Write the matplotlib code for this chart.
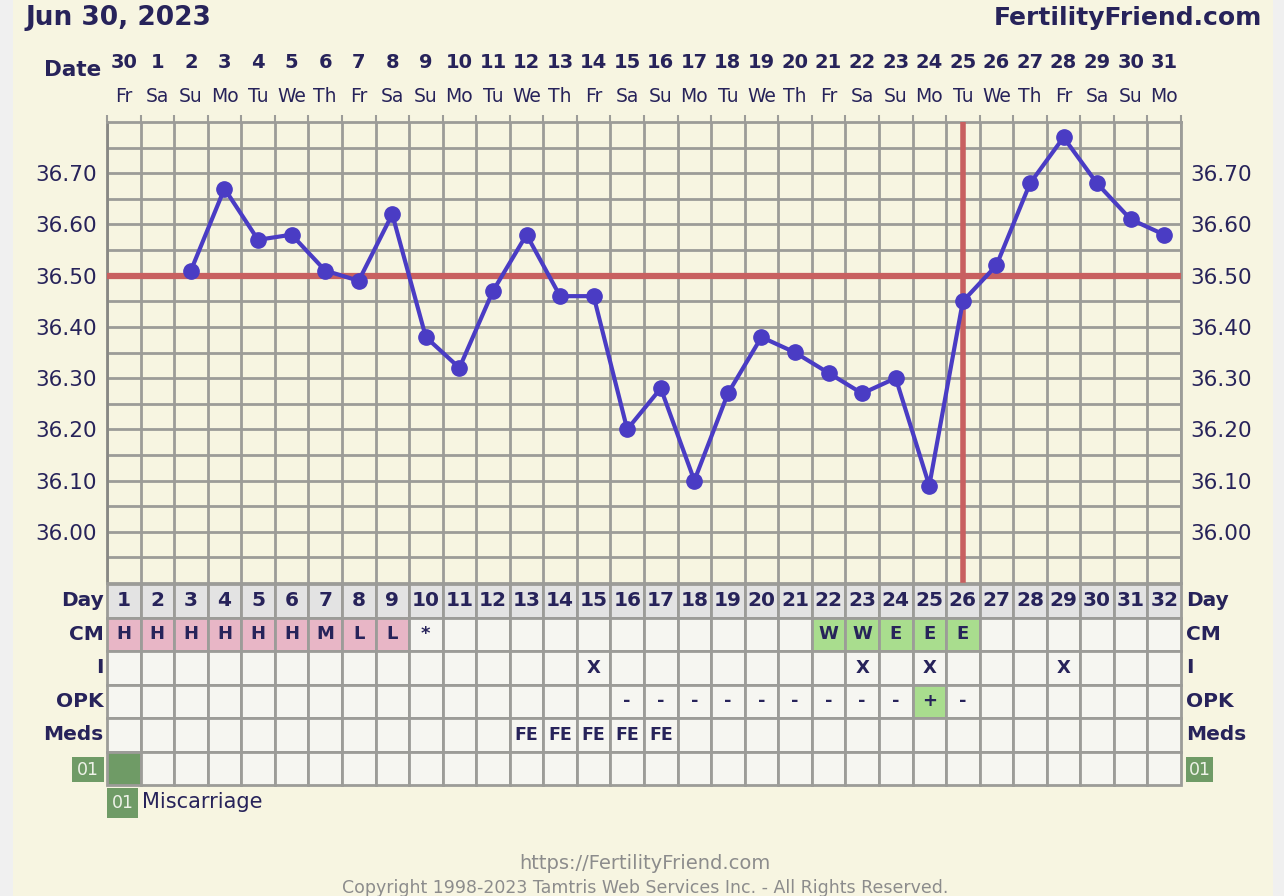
import numpy as np
import matplotlib
matplotlib.use("Agg")
import matplotlib.pyplot as plt
from matplotlib.patches import Rectangle
import matplotlib.transforms as mtransforms

# ---- data ----
days = list(range(1, 33))
dates = [30] + list(range(1, 32))
weekdays = ["Fr", "Sa", "Su", "Mo", "Tu", "We", "Th"] * 5
weekdays = weekdays[:32]
temps = [None, None, 36.51, 36.67, 36.57, 36.58, 36.51, 36.49, 36.62, 36.38,
         36.32, 36.47, 36.58, 36.46, 36.46, 36.20, 36.28, 36.10, 36.27, 36.38,
         36.35, 36.31, 36.27, 36.30, 36.09, 36.45, 36.52, 36.68, 36.77, 36.68,
         36.61, 36.58]
coverline = 36.50
ovulation_day = 26

cm = {1: "H", 2: "H", 3: "H", 4: "H", 5: "H", 6: "H", 7: "M", 8: "L", 9: "L",
      10: "*", 22: "W", 23: "W", 24: "E", 25: "E", 26: "E"}
intercourse = [15, 23, 25, 29]
opk = {16: "-", 17: "-", 18: "-", 19: "-", 20: "-", 21: "-", 22: "-", 23: "-",
       24: "-", 25: "+", 26: "-"}
meds = {13: "FE", 14: "FE", 15: "FE", 16: "FE", 17: "FE"}
custom01 = [1]
row_labels = ["Day", "CM", "I", "OPK", "Meds"]

# ---- styles ----
W, H = 1284, 896
navy = "#27235a"
cream = "#f7f5e1"
gridc = "#9c9c98"
linec = "#4a3cc4"
redc = "#c86060"
pink = "#e8b6c6"
green = "#a9dd8e"
dgreen = "#6f9b66"
cellc = "#f6f6f1"
daybg = "#e3e3e3"
BOLD = "DejaVu Sans"

fig = plt.figure(figsize=(W / 100, H / 100), dpi=100, facecolor="#f0f0f0")
fig.patches.append(Rectangle((13 / W, 0), (1273 - 13) / W, 1, transform=fig.transFigure,
                             facecolor=cream, edgecolor="none", zorder=-10))

# ---- temperature chart ----
x0, x1 = 107, 1181
ax = fig.add_axes([x0 / W, 1 - 583 / H, (x1 - x0) / W, (583 - 122) / H])
ax.set_facecolor(cream)
ax.set_xlim(0.5, 32.5)
ax.set_ylim(35.9, 36.8)
ax.set_xticks(np.arange(0.5, 33, 1))
ax.set_xticklabels([])
ax.set_yticks(np.arange(36.0, 36.75, 0.1))
ax.set_yticks(np.arange(35.95, 36.8, 0.05), minor=True)
ax.set_yticklabels(["%.2f" % v for v in np.arange(36.0, 36.75, 0.1)])
ax.grid(True, which="both", color=gridc, lw=2)
ax.set_axisbelow(True)
ax.tick_params(axis="y", which="both", length=0, labelsize=15.5, labelcolor=navy,
               left=True, right=True, labelleft=True, labelright=True, pad=7)
ax.tick_params(axis="x", which="both", length=5, width=1.5, color=gridc,
               bottom=False, top=True, direction="out")
for s in ax.spines.values():
    s.set_color(gridc)
    s.set_linewidth(2)
ax.spines["left"].set_color("#888884")

ax.axhline(coverline, color=redc, lw=4.5, zorder=3)
ax.axvline(ovulation_day, ymax=1, ymin=(583 - 580) / (583 - 122),
           color=redc, lw=4, zorder=3)
tx = [d for d, t in zip(days, temps) if t is not None]
ty = [t for t in temps if t is not None]
ax.plot(tx, ty, color=linec, lw=3, marker="o", ms=11, zorder=4, clip_on=False)

# date header
hdr = mtransforms.blended_transform_factory(ax.transData, fig.transFigure)
for d, dt, wd in zip(days, dates, weekdays):
    ax.text(d, 1 - 62 / H, str(dt), transform=hdr, ha="center", va="center",
            fontsize=14, fontweight="bold", color=navy, family=BOLD)
    ax.text(d, 1 - 96 / H, wd, transform=hdr, ha="center", va="center",
            fontsize=13.5, color=navy)
fig.text(101 / W, 1 - 70 / H, "Date", ha="right", va="center", fontsize=15.5,
         fontweight="bold", color=navy, family=BOLD)
fig.text(25 / W, 1 - 18 / H, "Jun 30, 2023", ha="left", va="center", fontsize=19,
         fontweight="bold", color=navy, family=BOLD)
fig.text(1262 / W, 1 - 18 / H, "FertilityFriend.com", ha="right", va="center",
         fontsize=18, fontweight="bold", color=navy, family=BOLD)

# ---- table ----
tax = fig.add_axes([x0 / W, 1 - 785 / H, (x1 - x0) / W, 201 / H])
tax.set_xlim(0.5, 32.5)
tax.set_ylim(6, 0)
tax.axis("off")


def cell(day, row, color):
    tax.add_patch(Rectangle((day - 0.5, row), 1, 1, facecolor=color,
                            edgecolor=gridc, lw=2, clip_on=False))


for d in days:
    cell(d, 0, daybg)
    tax.text(d, 0.5, str(d), ha="center", va="center", fontsize=14.5,
             fontweight="bold", color=navy, family=BOLD)
    c = cm.get(d)
    cell(d, 1, (green if c in ("W", "E") else pink) if c not in (None, "*") else cellc)
    if c:
        tax.text(d, 1.5 if c != "*" else 1.5, c, ha="center", va="center", fontsize=13,
                 fontweight="bold", color=navy, family=BOLD)
    cell(d, 2, cellc)
    if d in intercourse:
        tax.text(d, 2.5, "X", ha="center", va="center", fontsize=13,
                 fontweight="bold", color=navy, family=BOLD)
    o = opk.get(d)
    cell(d, 3, green if o == "+" else cellc)
    if o:
        tax.text(d, 3.5, o, ha="center", va="center", fontsize=13,
                 fontweight="bold", color=navy, family=BOLD)
    cell(d, 4, cellc)
    if d in meds:
        tax.text(d, 4.5, meds[d], ha="center", va="center", fontsize=12.5,
                 fontweight="bold", color=navy, family=BOLD)
    cell(d, 5, dgreen if d in custom01 else cellc)

for i, lab in enumerate(row_labels):
    tax.text(0.4, i + 0.5, lab, ha="right", va="center", fontsize=14.5,
             fontweight="bold", color=navy, family=BOLD, clip_on=False)
    tax.text(32.65, i + 0.5, lab, ha="left", va="center", fontsize=14.5,
             fontweight="bold", color=navy, family=BOLD, clip_on=False)


def badge(xp, yp, w, h):
    fig.patches.append(Rectangle((xp / W, 1 - (yp + h) / H), w / W, h / H,
                                 transform=fig.transFigure, facecolor=dgreen,
                                 edgecolor="none", zorder=2))
    fig.text((xp + w / 2) / W, 1 - (yp + h / 2) / H, "01", ha="center", va="center",
             fontsize=12.5, color="#eef2e8", zorder=3)


badge(72, 757, 32, 25)
badge(1186, 757, 27, 25)
badge(107, 788, 31, 30)
fig.text(142 / W, 1 - 802 / H, "Miscarriage", ha="left", va="center", fontsize=15,
         color=navy)

fig.text(645 / W, 1 - 863 / H, "https://FertilityFriend.com", ha="center",
         va="center", fontsize=14, color="#8c8c8c")
fig.text(645 / W, 1 - 888 / H,
         "Copyright 1998-2023 Tamtris Web Services Inc. - All Rights Reserved.",
         ha="center", va="center", fontsize=12.5, color="#8c8c8c")

fig.savefig("out.png", dpi=100, facecolor=fig.get_facecolor())
